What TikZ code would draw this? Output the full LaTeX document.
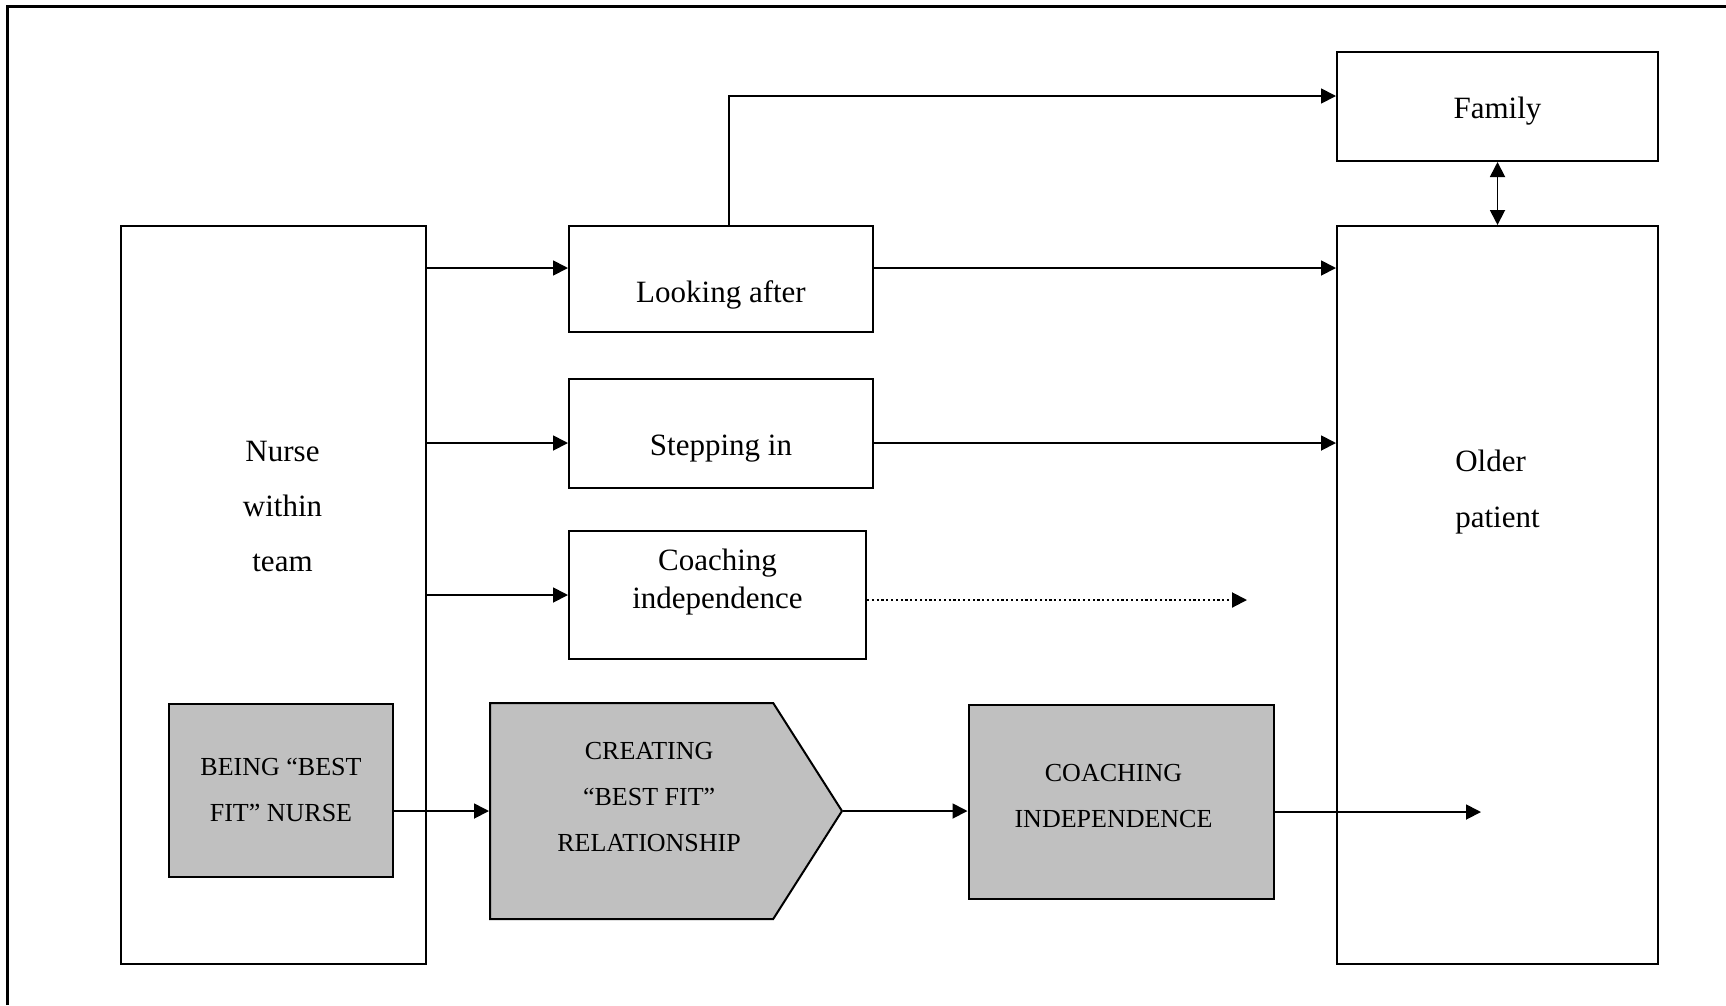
\documentclass[tikz,border=0pt]{standalone}
\usepackage{fontspec}
\setmainfont{Liberation Serif}
\usetikzlibrary{shapes.symbols,arrows.meta}
\definecolor{boxgray}{HTML}{C0C0C0}
\tikzset{
	box/.style      = {draw, line width=2pt, rectangle, inner sep=0pt},
	gbox/.style     = {box, fill=boxgray},
	txtlow/.style   = {text height=0pt, text depth=#1},  % baseline above centre
	txthigh/.style  = {text height=#1, text depth=0pt},  % baseline below centre
	lowc/.style     = {font=\fontsize{31}{38}\selectfont, align=center},
	capc/.style     = {font=\fontsize{26}{46}\selectfont, align=center},
	dots/.style     = {line width=2pt, dash pattern=on 2.2pt off 2.6pt}
}
\newcommand{\lpad}[1]{\hspace*{#1}}

\begin{document}
\begin{tikzpicture}[x=1pt, y=-1pt, line width=1.8pt, >={Triangle[length=15pt,width=15pt]}]
\useasboundingbox (0,0) rectangle (1726,1005);
% frame, cut off at right and bottom
\draw[line width=3pt] (7.5,1005) -- (7.5,6) -- (1726,6);

\draw
node at (273.5,595) [box, minimum width=305pt, minimum height=738pt, txtlow=47pt,
	font=\fontsize{31}{55}\selectfont, align=center] (nurse)
	{\lpad{18pt}Nurse\\\lpad{18pt}within\\\lpad{18pt}team}
node at (721,279) [box, lowc, minimum width=304pt, minimum height=106pt, txthigh=47pt] (look) {Looking after}
node at (721,433) [box, lowc, minimum width=304pt, minimum height=109pt, txthigh=45pt] (step) {Stepping in}
node at (717.5,595) [box, lowc, minimum width=297pt, minimum height=128pt, txthigh=27pt] (coach) {Coaching\\independence}
node at (1497.5,106.5) [box, lowc, minimum width=321pt, minimum height=109pt, txthigh=23pt] (family) {Family}
node at (1497.5,595) [box, minimum width=321pt, minimum height=738pt, txtlow=136pt,
	font=\fontsize{31}{56}\selectfont, align=left] (older) {Older\\patient}
node at (281,790.5) [gbox, capc, minimum width=224pt, minimum height=173pt, txthigh=62pt] (being) {BEING “BEST\\FIT” NURSE}
node at (489,811) [gbox, capc, shape=signal, signal to=east, signal pointer angle=115,
	anchor=west, minimum width=352pt, minimum height=216pt, txthigh=80pt] (creating)
	{\lpad{35pt}CREATING\\\lpad{35pt}“BEST FIT”\\\lpad{35pt}RELATIONSHIP}
node at (1121,801.5) [gbox, capc, minimum width=305pt, minimum height=194pt, txthigh=52pt] (coachind)
	{\lpad{-15pt}COACHING\\\lpad{-15pt}INDEPENDENCE};

\coordinate (dotend) at (1247,600);
\coordinate (bottomend) at (1481,812);

\draw[->] ([yshift=11pt]look.west -| nurse.east) -- ([yshift=11pt]look.west);
\draw[->] ([yshift=-10pt]step.west -| nurse.east) -- ([yshift=-10pt]step.west);
\draw[->] (coach.west -| nurse.east) -- (coach.west);
\draw[->] ([yshift=11pt]look.east) -- ([yshift=11pt]look.east -| older.west);
\draw[->] ([yshift=-10pt]step.east) -- ([yshift=-10pt]step.east -| older.west);
\draw[->] ([xshift=8pt]look.north) |- ([yshift=10.5pt]family.west);
\draw[<->] (family.south) -- (older.north);
\draw[->, dots] ([yshift=-5pt]coach.east) -- (dotend);
\draw[->] (being.east |- creating.west) -- (creating.west);
\draw[->] (creating.east) -- (creating.east -| coachind.west);
\draw[->] (coachind.east |- bottomend) -- (bottomend);
\end{tikzpicture}
\end{document}
